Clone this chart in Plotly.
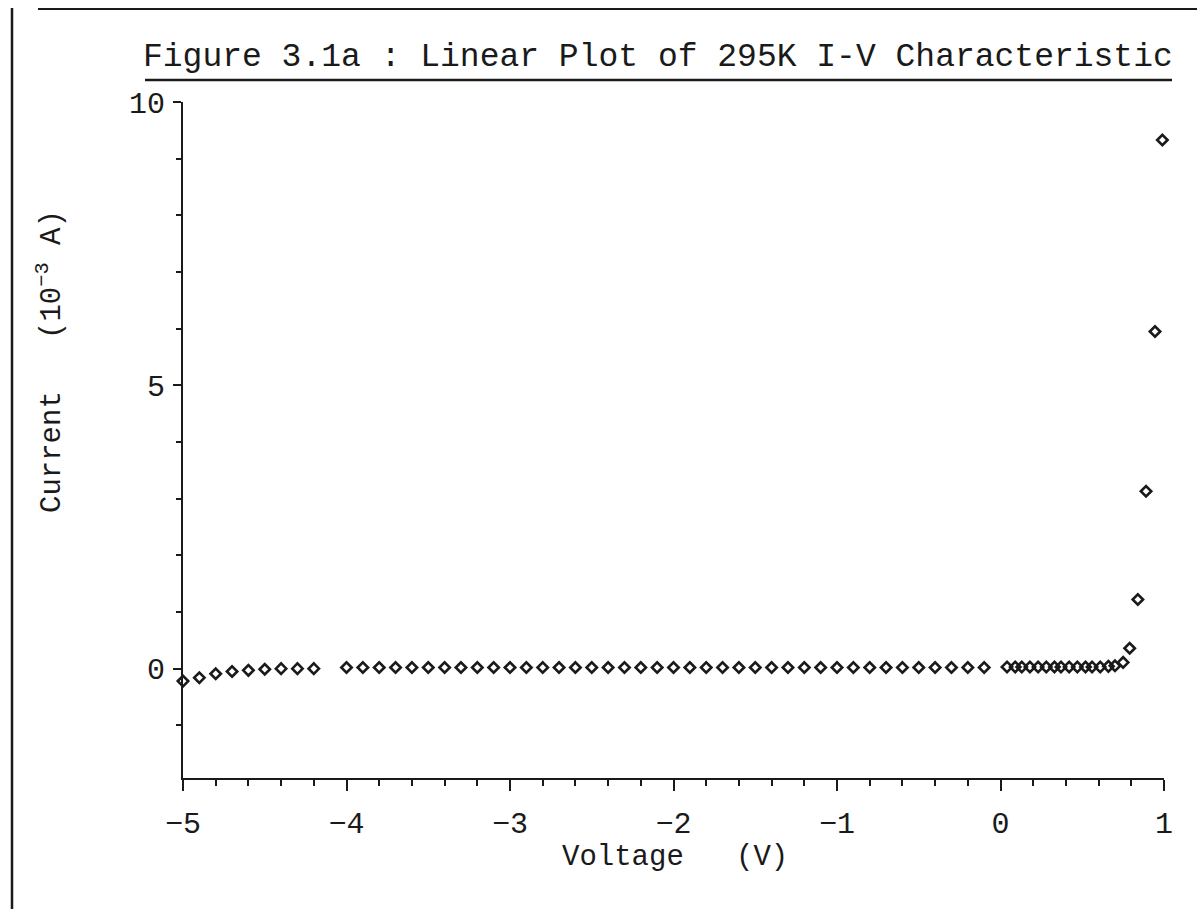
import plotly.graph_objects as go

# ---- data (Voltage in V, Current in 1e-3 A) ----
voltage = [
    -5.0, -4.9, -4.8, -4.7, -4.6, -4.5, -4.4, -4.3, -4.2,
    -4.0, -3.9, -3.8, -3.7, -3.6, -3.5, -3.4, -3.3, -3.2, -3.1,
    -3.0, -2.9, -2.8, -2.7, -2.6, -2.5, -2.4, -2.3, -2.2, -2.1,
    -2.0, -1.9, -1.8, -1.7, -1.6, -1.5, -1.4, -1.3, -1.2, -1.1,
    -1.0, -0.9, -0.8, -0.7, -0.6, -0.5, -0.4, -0.3, -0.2, -0.1,
    0.04, 0.09, 0.13, 0.18, 0.23, 0.28, 0.33, 0.37,
    0.42, 0.47, 0.52, 0.56, 0.61, 0.66, 0.70, 0.75,
    0.79, 0.84, 0.89, 0.945, 0.99,
]
current = [
    -0.22, -0.16, -0.09, -0.05, -0.03, -0.01, 0.0, 0.0, 0.0,
    0.02, 0.02, 0.02, 0.02, 0.02, 0.02, 0.02, 0.02, 0.02, 0.02,
    0.02, 0.02, 0.02, 0.02, 0.02, 0.02, 0.02, 0.02, 0.02, 0.02,
    0.02, 0.02, 0.02, 0.02, 0.02, 0.02, 0.02, 0.02, 0.02, 0.02,
    0.02, 0.02, 0.02, 0.02, 0.02, 0.02, 0.02, 0.02, 0.02, 0.02,
    0.03, 0.03, 0.03, 0.03, 0.03, 0.03, 0.03, 0.03,
    0.03, 0.03, 0.03, 0.03, 0.03, 0.04, 0.05, 0.11,
    0.36, 1.22, 3.13, 5.95, 9.33,
]

x_major_ticks = [-5, -4, -3, -2, -1, 0, 1]
x_tick_labels = ["\u22125", "\u22124", "\u22123", "\u22122", "\u22121", "0", "1"]
y_major_ticks = [0, 5, 10]
y_tick_labels = ["0", "5", "10"]

title_text = "Figure 3.1a : Linear Plot of 295K I-V Characteristic"
x_title = "Voltage\u00a0\u00a0\u00a0(V)"
y_title = "Current\u00a0\u00a0\u00a0(10<sup>\u22123</sup> A)"

FONT = "Liberation Mono, DejaVu Sans Mono, monospace"
INK = "#1a1a1a"

fig = go.Figure()
fig.add_trace(go.Scatter(
    x=voltage, y=current, mode="markers",
    marker=dict(symbol="diamond-open", size=8, color=INK, line=dict(width=2.6, color=INK)),
    cliponaxis=False, showlegend=False,
))

W, H = 1197, 909
L, R, T, B = 183, 1164, 102, 778
pw, ph = R - L, B - T


def px(x):
    return (x - L) / pw


def py(y):
    return (B - y) / ph


axis_common = dict(
    showgrid=False, zeroline=False, showline=True, linecolor=INK, linewidth=1.8,
    ticks="outside", tickcolor=INK, tickwidth=1.8,
    tickfont=dict(family=FONT, size=30, color=INK),
)

fig.update_layout(
    width=W, height=H,
    margin=dict(l=L, r=W - R, t=T, b=H - B, pad=0),
    paper_bgcolor="white", plot_bgcolor="white",
    xaxis=dict(
        range=[-5, 1], tickvals=x_major_ticks, ticktext=x_tick_labels,
        ticklen=11, ticklabelstandoff=6,
        minor=dict(dtick=0.2, ticks="outside", ticklen=6, tickcolor=INK, tickwidth=1.8),
        **axis_common,
    ),
    yaxis=dict(
        range=[-1.93, 10], tickvals=y_major_ticks, ticktext=y_tick_labels,
        ticklen=8, ticklabelstandoff=2,
        minor=dict(dtick=1, ticks="outside", ticklen=5, tickcolor=INK, tickwidth=1.8),
        **axis_common,
    ),
)

# title with underline
fig.add_annotation(
    text=title_text, xref="paper", yref="paper", x=px(658), y=py(58),
    showarrow=False, font=dict(family=FONT, size=33, color=INK),
    xanchor="center", yanchor="middle",
)
fig.add_shape(type="line", xref="paper", yref="paper",
              x0=px(145), x1=px(1172), y0=py(80), y1=py(80),
              line=dict(color=INK, width=2.5))

# axis titles
fig.add_annotation(
    text=x_title, xref="paper", yref="paper", x=px(675), y=py(857),
    showarrow=False, font=dict(family=FONT, size=29, color=INK),
    xanchor="center", yanchor="middle",
)
fig.add_annotation(
    text=y_title, xref="paper", yref="paper", x=px(50), y=py(362),
    showarrow=False, font=dict(family=FONT, size=29, color=INK),
    textangle=-90, xanchor="center", yanchor="middle",
)

# page border lines from the scanned sheet
fig.add_shape(type="line", xref="paper", yref="paper",
              x0=px(12), x1=px(12), y0=py(8), y1=py(909),
              line=dict(color=INK, width=2.5))
fig.add_shape(type="line", xref="paper", yref="paper",
              x0=px(38), x1=px(1197), y0=py(9), y1=py(9),
              line=dict(color=INK, width=2))

fig.write_html("out.html")
